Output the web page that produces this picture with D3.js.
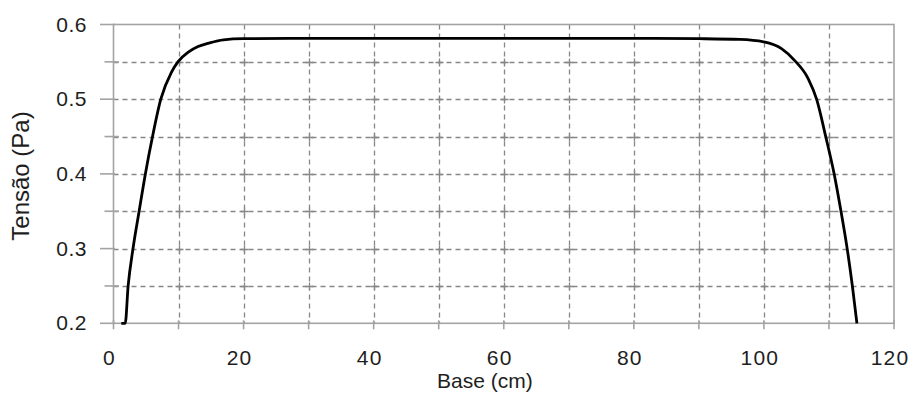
<!DOCTYPE html>
<html>
<head>
<meta charset="utf-8">
<script src="https://cdn.jsdelivr.net/npm/d3@7"></script>
<style>
  html, body { margin: 0; padding: 0; background: #fff; }
  svg { display: block; }
  text { font-family: "Liberation Sans", Arial, sans-serif; fill: #1e1e1e; }
</style>
</head>
<body>
<svg id="chart" width="913" height="394"></svg>
<script>
// Data
const baseCm = [1.2, 1.8, 2.25, 3.0, 3.94, 4.9, 6.0, 7.27, 8.9, 9.9, 11.5, 13.0, 14.8, 16.9, 20, 30, 40, 50, 60, 70, 80, 90, 96.3, 100, 102.7, 104.7, 106.8, 108.1, 109.5, 110.8, 111.85, 112.8, 113.6, 114.3];
const tensaoPa = [0.2, 0.2, 0.25, 0.3, 0.35, 0.4, 0.45, 0.5, 0.536, 0.55, 0.563, 0.5705, 0.5755, 0.5795, 0.581, 0.5815, 0.5815, 0.5815, 0.5815, 0.5815, 0.5815, 0.581, 0.580, 0.5766, 0.5677, 0.552, 0.5276, 0.5, 0.45, 0.4, 0.35, 0.3, 0.25, 0.2];
const xTicks = [0, 20, 40, 60, 80, 100, 120];
const xGrid = [10, 20, 30, 40, 50, 60, 70, 80, 90, 100, 110];
const yTicks = [0.2, 0.3, 0.4, 0.5, 0.6];
const yMinor = [0.25, 0.35, 0.45, 0.55];
const yGrid = [0.25, 0.3, 0.35, 0.4, 0.45, 0.5, 0.55];
const xTitle = "Base (cm)";
const yTitle = "Tensão (Pa)";

const L = 113.5, R = 894, T = 24.5, B = 323.3;
const x = d3.scaleLinear().domain([0, 120]).range([L, R]);
const y = d3.scaleLinear().domain([0.2, 0.6]).range([B, T]);

const svg = d3.select("#chart");
const gridColor = "#878787";
const axisColor = "#a3a3a3";

// grid
const g = svg.append("g");
g.selectAll("line.vg").data(xGrid).join("line")
  .attr("x1", d => Math.round(x(d)) + 0.5).attr("x2", d => Math.round(x(d)) + 0.5)
  .attr("y1", T).attr("y2", B)
  .attr("stroke", gridColor).attr("stroke-width", 1.3).attr("stroke-dasharray", "5,4");
g.selectAll("line.hg").data(yGrid).join("line")
  .attr("x1", L).attr("x2", R)
  .attr("y1", d => Math.round(y(d)) + 0.5).attr("y2", d => Math.round(y(d)) + 0.5)
  .attr("stroke", gridColor).attr("stroke-width", 1.3).attr("stroke-dasharray", "5,4");

// small crosses at grid intersections
const inter = [];
xGrid.forEach(a => yGrid.forEach(b => inter.push([a, b])));
g.selectAll("path.cr").data(inter).join("path")
  .attr("d", d => {
    const cx = Math.round(x(d[0])) + 0.5, cy = Math.round(y(d[1])) + 0.5;
    return `M${cx-4},${cy}H${cx+4}M${cx},${cy-4}V${cy+4}`;
  })
  .attr("stroke", gridColor).attr("stroke-width", 1.3).attr("fill", "none");

// frame
svg.append("rect").attr("x", L).attr("y", T).attr("width", R - L).attr("height", B - T)
  .attr("fill", "none").attr("stroke", axisColor).attr("stroke-width", 1.6);

// y ticks
svg.selectAll("line.yt").data(yTicks).join("line")
  .attr("x1", L - 13.5).attr("x2", L + 1.5)
  .attr("y1", d => y(d)).attr("y2", d => y(d))
  .attr("stroke", axisColor).attr("stroke-width", 1.6);
svg.selectAll("line.ym").data(yMinor).join("line")
  .attr("x1", L - 9).attr("x2", L + 5.5)
  .attr("y1", d => y(d)).attr("y2", d => y(d))
  .attr("stroke", axisColor).attr("stroke-width", 1.6);
// x ticks
svg.selectAll("line.xt").data(d3.range(0, 121, 10)).join("line")
  .attr("x1", d => x(d)).attr("x2", d => x(d))
  .attr("y1", B - 3).attr("y2", B + 6)
  .attr("stroke", axisColor).attr("stroke-width", 1.6);

// labels
svg.selectAll("text.yl").data(yTicks).join("text")
  .attr("x", 87).attr("y", d => y(d) + 1.5)
  .attr("text-anchor", "end").attr("dominant-baseline", "middle")
  .attr("font-size", 21).attr("letter-spacing", 0.5)
  .text(d => d3.format(".1f")(d));
svg.selectAll("text.xl").data(xTicks).join("text")
  .attr("x", d => x(d) - 4).attr("y", 365)
  .attr("text-anchor", "middle")
  .attr("font-size", 21).attr("letter-spacing", 1.2)
  .text(d => d);

svg.append("text").attr("x", 437).attr("y", 388).attr("text-anchor", "start")
  .attr("font-size", 21).text(xTitle);
svg.append("text").attr("transform", "translate(29,176) rotate(-90)")
  .attr("text-anchor", "middle").attr("font-size", 24).text(yTitle);

// curve
const line = d3.line().x((d, i) => x(baseCm[i])).y(d => y(d)).curve(d3.curveMonotoneX);
svg.append("path").datum(tensaoPa).attr("d", line)
  .attr("fill", "none").attr("stroke", "#000").attr("stroke-width", 2.8)
  .attr("stroke-linejoin", "round");
</script>
</body>
</html>
